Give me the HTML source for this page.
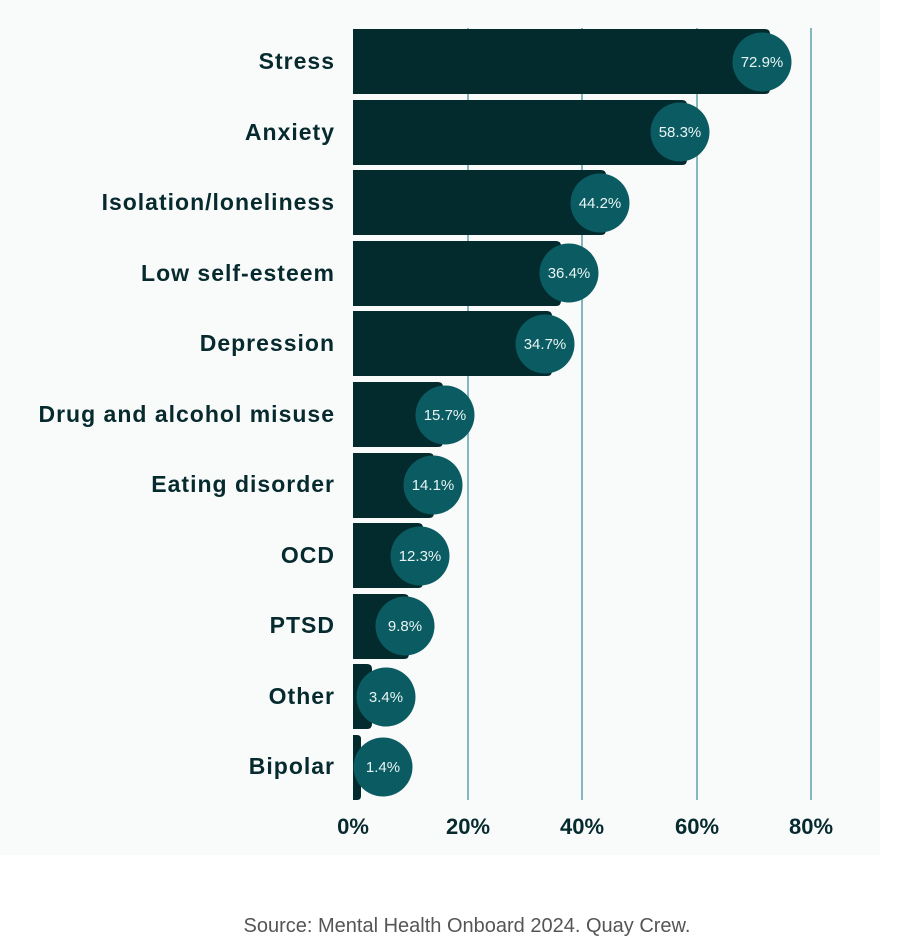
<!DOCTYPE html>
<html><head><meta charset="utf-8"><style>
html,body{margin:0;padding:0;background:#fff;}
svg{display:block;}
</style></head><body>
<svg width="900" height="952" viewBox="0 0 900 952" xmlns="http://www.w3.org/2000/svg" font-family="Liberation Sans, sans-serif">
<rect x="0" y="0" width="880" height="855" fill="#f9fbfb"/>
<g stroke="#86b7bf" stroke-width="2">
<line x1="468" y1="28" x2="468" y2="800"/>
<line x1="582" y1="28" x2="582" y2="800"/>
<line x1="697" y1="28" x2="697" y2="800"/>
<line x1="811" y1="28" x2="811" y2="800"/>
</g>
<g fill="#032a2d">
<path d="M353 29 H765 Q770 29 770 34 V89 Q770 94 765 94 H353 Z"/>
<path d="M353 100 H682 Q687 100 687 105 V160 Q687 165 682 165 H353 Z"/>
<path d="M353 170 H601 Q606 170 606 175 V230 Q606 235 601 235 H353 Z"/>
<path d="M353 241 H556 Q561 241 561 246 V301 Q561 306 556 306 H353 Z"/>
<path d="M353 311 H547 Q552 311 552 316 V371 Q552 376 547 376 H353 Z"/>
<path d="M353 382 H438 Q443 382 443 387 V442 Q443 447 438 447 H353 Z"/>
<path d="M353 453 H429 Q434 453 434 458 V513 Q434 518 429 518 H353 Z"/>
<path d="M353 523 H418 Q423 523 423 528 V583 Q423 588 418 588 H353 Z"/>
<path d="M353 594 H404 Q409 594 409 599 V654 Q409 659 404 659 H353 Z"/>
<path d="M353 664 H367 Q372 664 372 669 V724 Q372 729 367 729 H353 Z"/>
<path d="M353 735 H357 Q361 735 361 739 V796 Q361 800 357 800 H353 Z"/>
</g>
<g fill="#0a5c62">
<circle cx="762" cy="62" r="29.5"/>
<circle cx="680" cy="132" r="29.5"/>
<circle cx="600" cy="203" r="29.5"/>
<circle cx="569" cy="273" r="29.5"/>
<circle cx="545" cy="344" r="29.5"/>
<circle cx="445" cy="415" r="29.5"/>
<circle cx="433" cy="485" r="29.5"/>
<circle cx="420" cy="556" r="29.5"/>
<circle cx="405" cy="626" r="29.5"/>
<circle cx="386" cy="697" r="29.5"/>
<circle cx="383" cy="767" r="29.5"/>
</g>
<g font-size="15" fill="#e8f4f4" text-anchor="middle">
<text x="762" y="67">72.9%</text>
<text x="680" y="137">58.3%</text>
<text x="600" y="208">44.2%</text>
<text x="569" y="278">36.4%</text>
<text x="545" y="349">34.7%</text>
<text x="445" y="420">15.7%</text>
<text x="433" y="490">14.1%</text>
<text x="420" y="561">12.3%</text>
<text x="405" y="631">9.8%</text>
<text x="386" y="702">3.4%</text>
<text x="383" y="772">1.4%</text>
</g>
<g font-size="23" font-weight="bold" fill="#062a2e" text-anchor="end" letter-spacing="1">
<text x="335" y="69">Stress</text>
<text x="335" y="140">Anxiety</text>
<text x="335" y="210">Isolation/loneliness</text>
<text x="335" y="281">Low self-esteem</text>
<text x="335" y="351">Depression</text>
<text x="335" y="422">Drug and alcohol misuse</text>
<text x="335" y="492">Eating disorder</text>
<text x="335" y="563">OCD</text>
<text x="335" y="633">PTSD</text>
<text x="335" y="704">Other</text>
<text x="335" y="774">Bipolar</text>
</g>
<g font-weight="bold" font-size="22" fill="#062a2e" text-anchor="middle">
<text x="353" y="834">0%</text>
<text x="468" y="834">20%</text>
<text x="582" y="834">40%</text>
<text x="697" y="834">60%</text>
<text x="811" y="834">80%</text>
</g>
<text x="467" y="932" font-size="20" fill="#555" text-anchor="middle">Source: Mental Health Onboard 2024. Quay Crew.</text>
</svg>
</body></html>
